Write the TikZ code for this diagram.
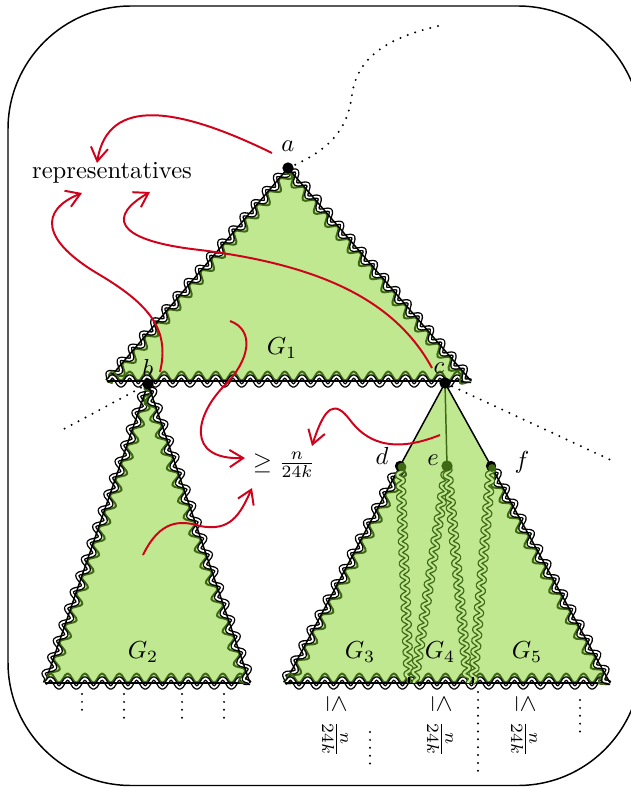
\documentclass[tikz,border=0pt]{standalone}
\usepackage{amsmath}
\usetikzlibrary{calc, arrows.meta, decorations.pathmorphing}

\definecolor{leaf}{RGB}{192,232,144}
\definecolor{moss}{RGB}{62,104,20}
\definecolor{crimson}{RGB}{208,2,27}

\tikzset{
  rim/.style={black, line width=0.55pt, double=white, double distance=0.7pt, line join=round,
    decorate, decoration={snake, amplitude=1.9pt, segment length=7pt}},
  inrim/.style={moss, line width=0.8pt, line join=round,
    decorate, decoration={snake, amplitude=1.9pt, segment length=7pt, raise=2pt}},
  strand/.style={moss, line width=0.55pt, double=leaf, double distance=0.9pt,
    decorate, decoration={snake, amplitude=1.3pt, segment length=4.5pt}},
  hint/.style={crimson, line width=0.8pt, -{Straight Barb[length=5.5pt, width=7pt]}},
  dotline/.style={line width=0.9pt, line cap=round, dash pattern=on 0pt off 3.2pt},
}

\begin{document}
\begin{tikzpicture}[x=0.406pt, y=-0.406pt, line join=round]
  \useasboundingbox (0,0) rectangle (631,787);
  \clip (0,0) rectangle (631,787);
  \draw[semithick, rounded corners=50pt] (8,6) rectangle (641,785.5);

  \coordinate (a) at (288,168);
  \coordinate (b) at (148,384);
  \coordinate (c) at (445,383);
  \coordinate (d) at (400,466);
  \coordinate (e) at (447,466);
  \coordinate (f) at (491,466);
  % corners of the trees
  \coordinate (G1l) at (107,381);
  \coordinate (G1r) at (471,381);
  \coordinate (G2l) at (45,683);
  \coordinate (G2r) at (250,683);
  \coordinate (G3l) at (285,683);
  \coordinate (G5r) at (610,683);
  \coordinate (m34) at (409,683);
  \coordinate (m34b) at (414,683);
  \coordinate (m45) at (468,683);
  \coordinate (m45b) at (473,683);

  \fill[leaf] (a) -- (G1l) -- (G1r) -- cycle;
  \fill[leaf] (b) -- (G2l) -- (G2r) -- cycle;
  \fill[leaf] (c) -- (G3l) -- (G5r) -- cycle;
  % wavy borders, edge by edge
  \foreach \p/\q in {a/G1l, G1l/G1r, G1r/a, b/G2l, G2l/G2r, G2r/b, d/G3l, G3l/G5r, G5r/f} {
    \draw[inrim] (\p) -- (\q);
    \draw[rim] (\p) -- (\q);
    \draw[semithick] (\p) -- (\q);
  }
  \draw[semithick] (c) -- (d);
  \draw[semithick] (c) -- (f);
  \draw[moss, semithick] (c) -- (e);
  \draw[strand] (d) -- (m34);
  \draw[strand] (e) -- (m34b);
  \draw[strand] (e) -- (m45);
  \draw[strand] (f) -- (m45b);
  \draw[semithick] (m34) -- ++(0,-6);
  \draw[semithick] (m45b) -- ++(0,-6);

  \fill (a) circle (2.3pt); \fill (b) circle (2.3pt); \fill (c) circle (2.3pt);
  \fill (d) circle (2.1pt); \fill (f) circle (2.1pt);
  \fill[moss] ($(d)+(2,1)$) circle (1.8pt);
  \fill[moss] (e) circle (2.3pt);
  \fill[moss] ($(f)+(1,2)$) circle (1.6pt);

  % dotted continuations
  \draw[dotline] (a) .. controls (335,148) and (348,125) .. (352,95)
    .. controls (358,50) and (400,35) .. (442,25);
  \draw[dotline] (b) -- (62,430);
  \draw[dotline] (c) -- (615,462);
  \foreach \x/\y in {82/716, 124/722, 182/718, 224/722}
    \draw[dotline] (\x,694) -- (\x,\y);
  \draw[dotline] (370,732) -- (370,768);
  \draw[dotline] (478,692) -- (478,771);
  \draw[dotline] (580,700) -- (580,737);

  \node (la) at (288,146) {$a$};
  \node (lb) at (148,368) {$b$};
  \node (lc) at (439,368) {$c$};
  \node (ld) at (382,456) {$d$};
  \node (le) at (433,460) {$e$};
  \node (lf) at (522,462) {$f$};
  \node (g1) at (282,348) {$G_1$};
  \node (g2) at (143,652) {$G_2$};
  \node (g3) at (360,652) {$G_3$};
  \node (g4) at (440,652) {$G_4$};
  \node (g5) at (527,652) {$G_5$};
  \node (rep) at (112,173) {representatives};
  \node (big) at (284,465) {$\geq \frac{n}{24k}$};
  \node[rotate=-90] (s3) at (335,726) {$\leq \frac{n}{24k}$};
  \node[rotate=-90] (s4) at (440,726) {$\leq \frac{n}{24k}$};
  \node[rotate=-90] (s5) at (524,726) {$\leq \frac{n}{24k}$};

  % who sends what where
  \draw[hint] (272,153) .. controls (180,108) and (108,95) .. (97,163);
  \draw[hint] (160,372) .. controls (170,330) and (150,305) .. (100,275)
    .. controls (40,240) and (40,210) .. (82,193);
  \draw[hint] (432,368) .. controls (395,300) and (320,265) .. (200,250)
    .. controls (110,240) and (110,215) .. (150,192);
  \draw[hint] (230,321) .. controls (255,330) and (250,360) .. (225,385)
    .. controls (195,415) and (185,460) .. (245,458);
  \draw[hint] (143,555) .. controls (160,520) and (180,520) .. (200,526)
    .. controls (230,532) and (240,515) .. (252,488);
  \draw[hint] (440,435) .. controls (390,455) and (365,440) .. (350,420)
    .. controls (335,400) and (325,405) .. (312,446);
\end{tikzpicture}
\end{document}
